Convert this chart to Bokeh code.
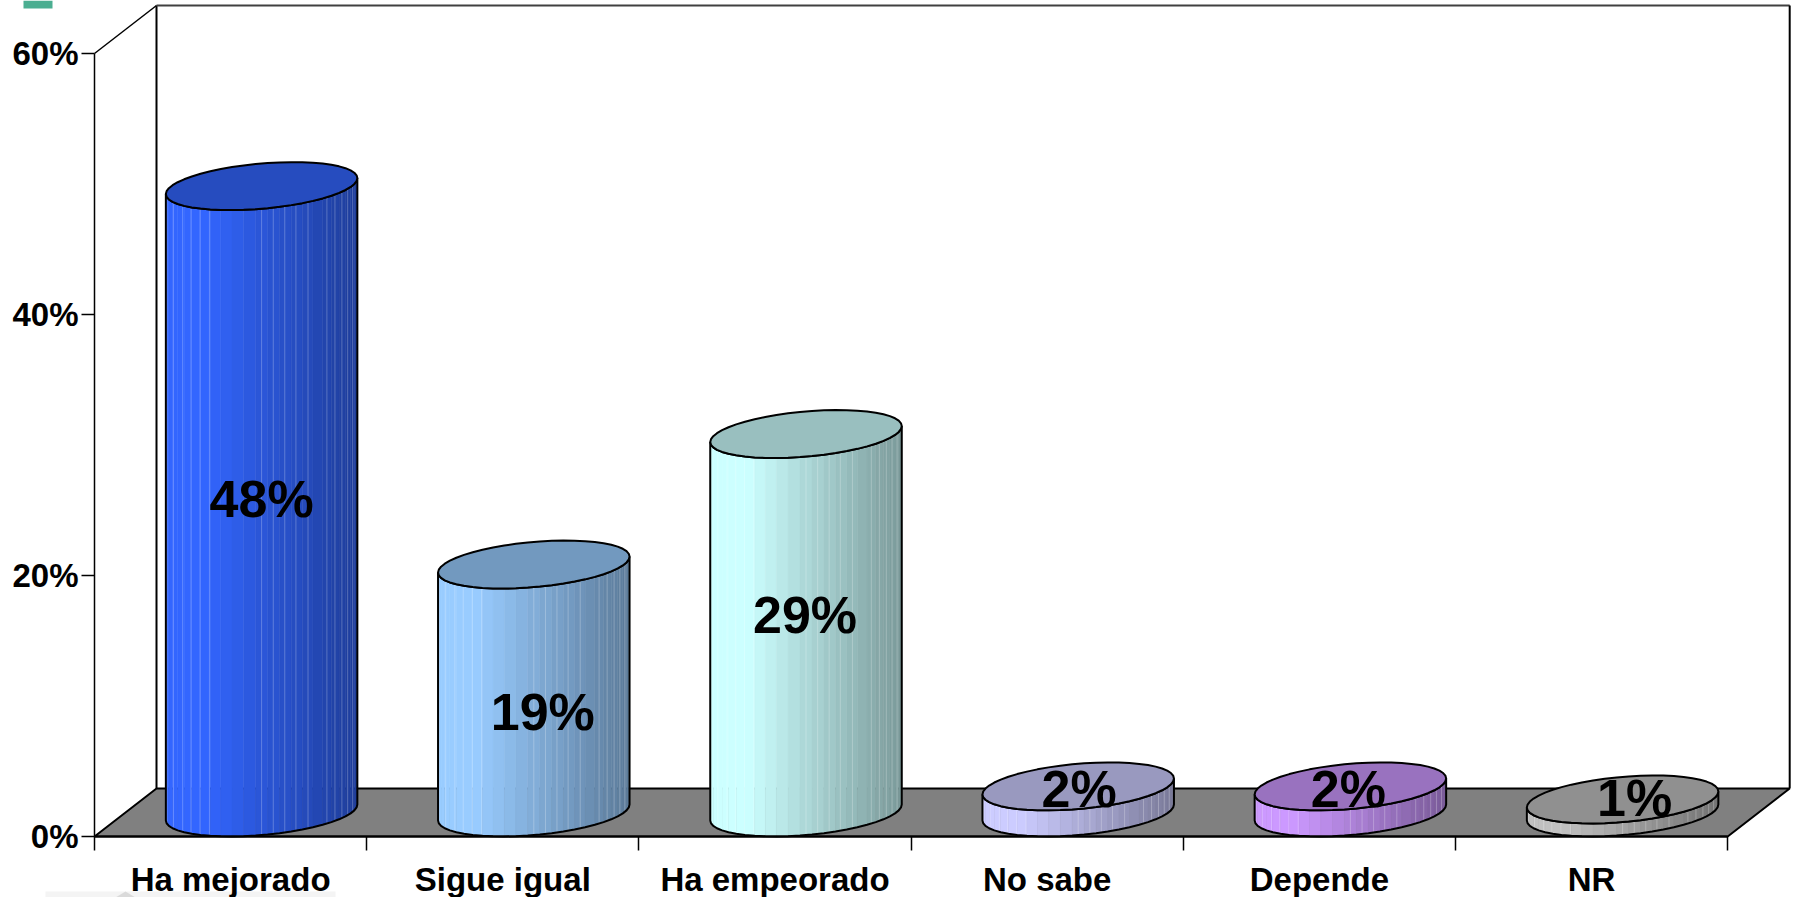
import numpy as np
from bokeh.embed import file_html
from bokeh.resources import INLINE
from bokeh.plotting import figure
from bokeh.models import Range1d, LinearAxis, FixedTicker, ColumnDataSource
from bokeh.core.properties import value

categories = ["Ha mejorado", "Sigue igual", "Ha empeorado", "No sabe", "Depende", "NR"]
values = [48, 19, 29, 2, 2, 1]
bar_colors = ["#3366FF", "#99CCFF", "#CCFFFF", "#CCCCFF", "#CC99FF", "#C0C0C0"]
y_ticks = [0, 20, 40, 60]
y_tick_labels = ["0%", "20%", "40%", "60%"]
label_dx_px = [0, 9, -1, 1, -2, 12]
label_dy_px = [0, 23, -8, -10, -10, -8]
# angles (degrees from the left edge) of the pale lines on the cylinder sides
facet_line_deg = [9, 23, 34.5, 42.5, 50, 57, 90, 97, 104, 111, 119, 133, 140, 147, 154, 162]

# drawing geometry (chart units: categories on x, percent on y)
W, H = 1793, 897
PX_L, PX_B = 94, 61
CAT_PX = 272.2
PCT_PX = 13.05
DEPTH_X = 62 / CAT_PX
DEPTH_Y = 48 / PCT_PX
RAD_X = 95.75 / CAT_PX
RAD_Y = 22.6 / PCT_PX
SKEW = 8 / PCT_PX
FONT = "Liberation Sans"
n_cat = len(categories)


def dx(px):  # canvas pixel column to chart x
    return (px - PX_L) / CAT_PX


def dy(px):  # canvas pixel row to chart y
    return (H - PX_B - px) / PCT_PX


p = figure(width=W, height=H, output_backend="svg", toolbar_location=None,
           x_range=Range1d(dx(0), dx(W)), y_range=Range1d(dy(H), dy(0)),
           x_axis_type=None, y_axis_type=None,
           frame_width=W, frame_height=H,
           min_border_left=0, min_border_bottom=0, min_border_top=0, min_border_right=0,
           outline_line_color=None, background_fill_color="white", border_fill_color="white")
p.grid.visible = False

# stray marks at the picture's edges
p.quad(left=dx(23), right=dx(52), top=dy(0), bottom=dy(8), fill_color="#4BAE91", line_color=None)
p.quad(left=dx(45), right=dx(335), top=dy(891), bottom=dy(H), fill_color="#F4F4F4", line_color=None)
p.patch([dx(115), dx(125), dx(135)], [dy(H), dy(891), dy(H)], fill_color="#DADADA", line_color=None)

# walls and floor
wall_top = y_ticks[-1] + DEPTH_Y
wall_right = n_cat + DEPTH_X
p.patch([0, DEPTH_X, wall_right, n_cat], [0, DEPTH_Y, DEPTH_Y, 0],
        fill_color="#808080", line_color="black", line_width=2)
p.line([0, DEPTH_X], [y_ticks[-1], wall_top], line_color="black", line_width=1.5)
p.line([DEPTH_X, DEPTH_X], [DEPTH_Y, wall_top], line_color="black", line_width=2)
p.line([DEPTH_X, wall_right], [wall_top, wall_top], line_color="#404040", line_width=2)
p.line([wall_right, wall_right], [DEPTH_Y, wall_top], line_color="black", line_width=2)


def shade(col, f):
    r, g, b = int(col[1:3], 16), int(col[3:5], 16), int(col[5:7], 16)
    return "#%02x%02x%02x" % (int(r * f), int(g * f), int(b * f))


def ring(cx, cy, t):
    return cx + RAD_X * np.cos(t), cy + RAD_Y * np.sin(t) + SKEW * np.cos(t)


# cylinders
n_facets = 25
front_t = np.linspace(np.pi, 2 * np.pi, n_facets + 1)
line_t = np.pi + np.radians(facet_line_deg)
all_t = np.linspace(0, 2 * np.pi, 2 * n_facets + 1)
for i, (val, col) in enumerate(zip(values, bar_colors)):
    cx = i + 0.5 + DEPTH_X / 2
    y0 = DEPTH_Y / 2
    y1 = val + DEPTH_Y / 2
    bx, by = ring(cx, y0, front_t)
    tx, ty = ring(cx, y1, front_t)
    xs, ys, fills = [], [], []
    for k in range(n_facets):
        xs.append([bx[k], bx[k + 1], tx[k + 1], tx[k]])
        ys.append([by[k], by[k + 1], ty[k + 1], ty[k]])
        frac = ((bx[k] + bx[k + 1]) / 2 - (cx - RAD_X)) / (2 * RAD_X)
        fills.append(shade(col, 1 - 0.4 * max(0.0, frac - 0.2) / 0.8))
    p.patches(xs, ys, fill_color=fills, line_color=fills, line_width=0.5)
    lbx, lby = ring(cx, y0, line_t)
    ltx, lty = ring(cx, y1, line_t)
    p.multi_line([[a, b] for a, b in zip(lbx, ltx)], [[a, b] for a, b in zip(lby, lty)],
                 line_color="white", line_alpha=0.25, line_width=1)
    p.patch(list(bx) + list(tx[::-1]), list(by) + list(ty[::-1]),
            fill_color=None, line_color="black", line_width=2)
    ex, ey = ring(cx, y1, all_t)
    p.patch(ex, ey, fill_color=shade(col, 0.75), line_color="black", line_width=2)

# value labels
src = ColumnDataSource(dict(
    x=[i + 0.5 + DEPTH_X / 2 for i in range(n_cat)],
    y=[v / 2 + DEPTH_Y / 2 for v in values],
    t=[f"{v}%" for v in values],
    dx=label_dx_px,
    dy=label_dy_px,
))
p.text("x", "y", text="t", source=src, x_offset="dx", y_offset="dy",
       text_font=value(FONT), text_font_style="bold", text_font_size="52px",
       text_align="center", text_baseline="middle", text_color="black")

# axes, pinned inside the full-canvas frame
yax = LinearAxis(ticker=FixedTicker(ticks=y_ticks), bounds=(0, y_ticks[-1]), fixed_location=0,
                 major_label_overrides={t: s for t, s in zip(y_ticks, y_tick_labels)},
                 major_tick_in=0, major_tick_out=13, minor_tick_line_color=None,
                 major_label_standoff=3, axis_line_color="black", axis_line_width=1.5,
                 major_tick_line_color="black", major_tick_line_width=1.5,
                 major_label_text_font=FONT, major_label_text_font_style="bold",
                 major_label_text_font_size="33px", major_label_text_color="black")
p.add_layout(yax, "left")

centers = [i + 0.5 for i in range(n_cat)]
xax = LinearAxis(ticker=FixedTicker(ticks=centers, minor_ticks=list(range(n_cat + 1))),
                 bounds=(0, n_cat), fixed_location=0,
                 major_label_overrides={c: s for c, s in zip(centers, categories)},
                 major_tick_in=0, major_tick_out=0, minor_tick_in=0, minor_tick_out=14,
                 minor_tick_line_color="black", minor_tick_line_width=1.5,
                 major_label_standoff=10, axis_line_color="black", axis_line_width=2,
                 major_label_text_font=FONT, major_label_text_font_style="bold",
                 major_label_text_font_size="33px", major_label_text_color="black")
p.add_layout(xax, "below")

open("out.html", "w").write(file_html(p, INLINE))
